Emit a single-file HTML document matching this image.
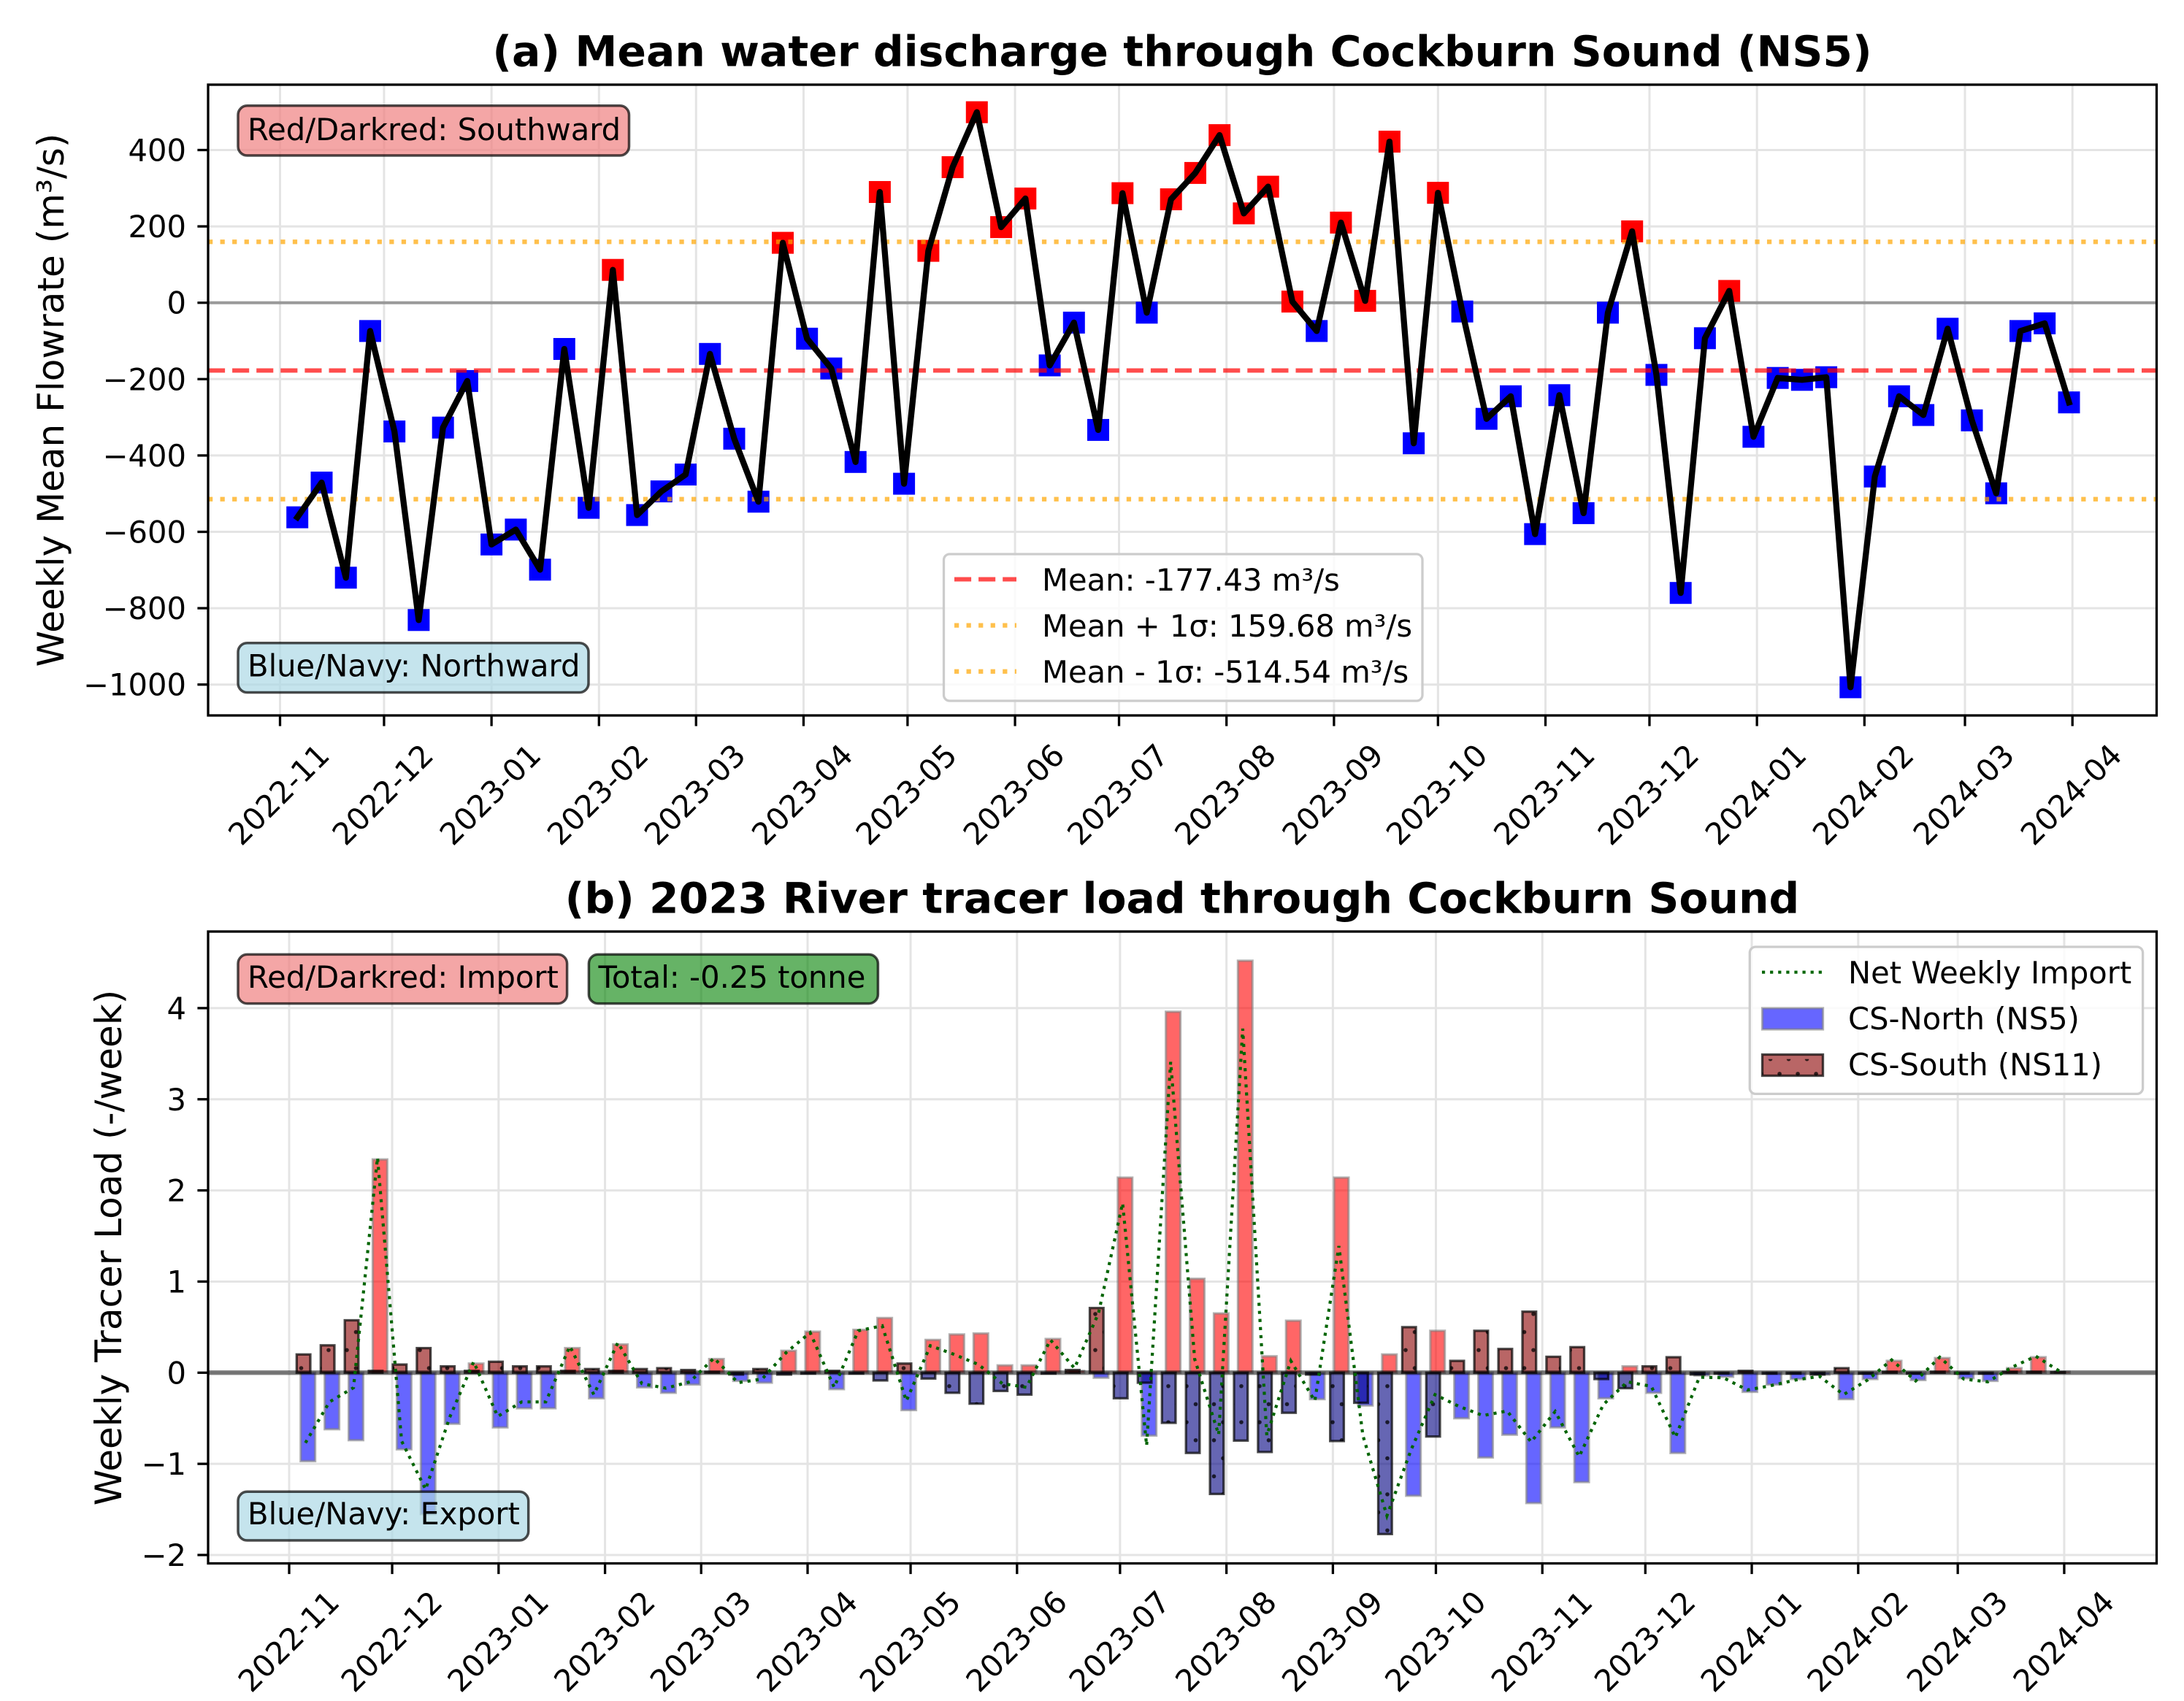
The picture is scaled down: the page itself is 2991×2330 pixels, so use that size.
<!DOCTYPE html>
<html><head><meta charset="utf-8">
<style>
html,body{margin:0;padding:0;background:#fff;}
svg{display:block;}
text{font-family:"DejaVu Sans","Liberation Sans",sans-serif;fill:#000;}
.tk{font-size:41.67px;}
.tt{font-size:58.33px;font-weight:bold;}
.yl{font-size:50px;}
</style></head><body>
<svg xmlns="http://www.w3.org/2000/svg" width="2991" height="2330" viewBox="0 0 2991 2330">
<defs>
<pattern id="dots" patternUnits="userSpaceOnUse" x="0" y="21.5" width="25" height="49.4">
<circle cx="0" cy="0" r="2.8" fill="#000" fill-opacity="0.75"/>
<circle cx="25" cy="0" r="2.8" fill="#000" fill-opacity="0.75"/>
<circle cx="0" cy="49.4" r="2.8" fill="#000" fill-opacity="0.75"/>
<circle cx="25" cy="49.4" r="2.8" fill="#000" fill-opacity="0.75"/>
<circle cx="12.5" cy="24.7" r="2.8" fill="#000" fill-opacity="0.75"/>
</pattern>
<pattern id="dotsL" patternUnits="userSpaceOnUse" x="2424.6" y="1450.7" width="25" height="40.4">
<circle cx="0" cy="0" r="2.8" fill="#000" fill-opacity="0.75"/>
<circle cx="25" cy="0" r="2.8" fill="#000" fill-opacity="0.75"/>
<circle cx="12.5" cy="20.2" r="2.8" fill="#000" fill-opacity="0.75"/>
</pattern>
<clipPath id="clipT"><rect x="285" y="116" width="2668.5" height="864"/></clipPath>
<clipPath id="clipB"><rect x="285" y="1276" width="2668.5" height="865.5"/></clipPath>
</defs>
<rect width="2991" height="2330" fill="#fff"/>

<!-- ============ TOP PANEL ============ -->
<g id="gridT" stroke="#e4e4e4" stroke-width="3"></g>
<g clip-path="url(#clipT)">
<line x1="285" x2="2953.5" y1="414.7" y2="414.7" stroke="#808080" stroke-opacity="0.75" stroke-width="4.2"/>
<g id="marksT"></g>
<line x1="285" x2="2953.5" y1="507.5" y2="507.5" stroke="#ff0000" stroke-opacity="0.7" stroke-width="6" stroke-dasharray="23.1 10"/>
<line x1="285" x2="2953.5" y1="331.2" y2="331.2" stroke="#ffa500" stroke-opacity="0.7" stroke-width="6.25" stroke-dasharray="6.25 10.3"/>
<line x1="285" x2="2953.5" y1="683.8" y2="683.8" stroke="#ffa500" stroke-opacity="0.7" stroke-width="6.25" stroke-dasharray="6.25 10.3"/>
<g id="lineT"></g>
</g>
<g id="ticksT" stroke="#000" stroke-width="3.3"></g>
<rect x="285" y="116" width="2668.5" height="864" fill="none" stroke="#000" stroke-width="3.3"/>

<!-- top text boxes -->
<rect x="326" y="144.8" width="535.5" height="68.2" rx="12.5" ry="12.5" fill="#f08080" fill-opacity="0.7" stroke="#000" stroke-opacity="0.7" stroke-width="3.5"/>
<text class="tk" x="339" y="192">Red/Darkred: Southward</text>
<rect x="326" y="880.7" width="480" height="67.8" rx="12.5" ry="12.5" fill="#add8e6" fill-opacity="0.7" stroke="#000" stroke-opacity="0.7" stroke-width="3.5"/>
<text class="tk" x="339" y="926.6">Blue/Navy: Northward</text>

<!-- top legend -->
<rect x="1292.5" y="759" width="655.5" height="201" rx="8" ry="8" fill="#fff" fill-opacity="0.8" stroke="#cccccc" stroke-width="3.3"/>
<line x1="1307" x2="1392" y1="793.5" y2="793.5" stroke="#ff0000" stroke-opacity="0.7" stroke-width="6" stroke-dasharray="23.1 10"/>
<line x1="1307" x2="1392" y1="856.6" y2="856.6" stroke="#ffa500" stroke-opacity="0.7" stroke-width="6.25" stroke-dasharray="6.25 10.3"/>
<line x1="1307" x2="1392" y1="919.8" y2="919.8" stroke="#ffa500" stroke-opacity="0.7" stroke-width="6.25" stroke-dasharray="6.25 10.3"/>
<text class="tk" x="1427" y="809">Mean: -177.43 m³/s</text>
<text class="tk" x="1427" y="872">Mean + 1σ: 159.68 m³/s</text>
<text class="tk" x="1427" y="935">Mean - 1σ: -514.54 m³/s</text>

<!-- top title & labels -->
<text class="tt" x="1619" y="90.7" text-anchor="middle">(a) Mean water discharge through Cockburn Sound (NS5)</text>
<text class="yl" transform="translate(87 548) rotate(-90)" text-anchor="middle">Weekly Mean Flowrate (m³/s)</text>

<g class="tk" text-anchor="end">
<text x="255" y="220.5">400</text>
<text x="255" y="325.1">200</text>
<text x="255" y="429.7">0</text>
<text x="255" y="534.3">−200</text>
<text x="255" y="638.9">−400</text>
<text x="255" y="743.5">−600</text>
<text x="255" y="848.1">−800</text>
<text x="255" y="952.7">−1000</text>
</g>

<g class="tk" text-anchor="middle">
<text transform="translate(381.5 1088) rotate(-45)" y="15">2022-11</text>
<text transform="translate(523.9 1088) rotate(-45)" y="15">2022-12</text>
<text transform="translate(671.1 1088) rotate(-45)" y="15">2023-01</text>
<text transform="translate(818.3 1088) rotate(-45)" y="15">2023-02</text>
<text transform="translate(951.3 1088) rotate(-45)" y="15">2023-03</text>
<text transform="translate(1098.4 1088) rotate(-45)" y="15">2023-04</text>
<text transform="translate(1240.9 1088) rotate(-45)" y="15">2023-05</text>
<text transform="translate(1388.1 1088) rotate(-45)" y="15">2023-06</text>
<text transform="translate(1530.5 1088) rotate(-45)" y="15">2023-07</text>
<text transform="translate(1677.7 1088) rotate(-45)" y="15">2023-08</text>
<text transform="translate(1824.9 1088) rotate(-45)" y="15">2023-09</text>
<text transform="translate(1967.3 1088) rotate(-45)" y="15">2023-10</text>
<text transform="translate(2114.5 1088) rotate(-45)" y="15">2023-11</text>
<text transform="translate(2257.0 1088) rotate(-45)" y="15">2023-12</text>
<text transform="translate(2404.2 1088) rotate(-45)" y="15">2024-01</text>
<text transform="translate(2551.3 1088) rotate(-45)" y="15">2024-02</text>
<text transform="translate(2689.0 1088) rotate(-45)" y="15">2024-03</text>
<text transform="translate(2836.2 1088) rotate(-45)" y="15">2024-04</text>
</g>

<!-- ============ BOTTOM PANEL ============ -->
<g id="gridB" stroke="#e4e4e4" stroke-width="3"></g>
<g clip-path="url(#clipB)">
<g id="barsN"></g>
<g id="barsS"></g>
<line x1="285" x2="2953.5" y1="1880.3" y2="1880.3" stroke="#000" stroke-opacity="0.5" stroke-width="6.25"/>
<g id="greenB"></g>
</g>
<g id="ticksB" stroke="#000" stroke-width="3.3"></g>
<rect x="285" y="1276" width="2668.5" height="865.5" fill="none" stroke="#000" stroke-width="3.3"/>

<!-- bottom text boxes -->
<rect x="326" y="1307.4" width="450.6" height="67.2" rx="12.5" ry="12.5" fill="#f08080" fill-opacity="0.7" stroke="#000" stroke-opacity="0.7" stroke-width="3.5"/>
<text class="tk" x="339" y="1353">Red/Darkred: Import</text>
<rect x="806.4" y="1307.4" width="396" height="67.2" rx="12.5" ry="12.5" fill="#008000" fill-opacity="0.6" stroke="#000" stroke-opacity="0.7" stroke-width="3.5"/>
<text class="tk" x="819.5" y="1353">Total: -0.25 tonne</text>
<rect x="326" y="2043.3" width="397.7" height="66.7" rx="12.5" ry="12.5" fill="#add8e6" fill-opacity="0.7" stroke="#000" stroke-opacity="0.7" stroke-width="3.5"/>
<text class="tk" x="339" y="2088">Blue/Navy: Export</text>

<!-- bottom legend -->
<rect x="2396.3" y="1297" width="538.3" height="201.4" rx="8" ry="8" fill="#fff" fill-opacity="0.8" stroke="#cccccc" stroke-width="3.3"/>
<line x1="2413" x2="2495" y1="1331.7" y2="1331.7" stroke="#006400" stroke-width="4.2" stroke-dasharray="4.2 6.9"/>
<rect x="2413.5" y="1381" width="83" height="29" fill="#0000ff" fill-opacity="0.6" stroke="#808080" stroke-opacity="0.6" stroke-width="3.3"/>
<rect x="2413.5" y="1444.5" width="83" height="29" fill="#8b0000" fill-opacity="0.6"/>
<rect x="2413.5" y="1444.5" width="83" height="29" fill="url(#dotsL)" stroke="#000" stroke-opacity="0.7" stroke-width="3.3"/>
<text class="tk" x="2531" y="1347">Net Weekly Import</text>
<text class="tk" x="2531" y="1410">CS-North (NS5)</text>
<text class="tk" x="2531" y="1473">CS-South (NS11)</text>

<!-- bottom title & labels -->
<text class="tt" x="1619" y="1250.7" text-anchor="middle">(b) 2023 River tracer load through Cockburn Sound</text>
<text class="yl" transform="translate(166 1709) rotate(-90)" text-anchor="middle">Weekly Tracer Load (-/week)</text>

<g class="tk" text-anchor="end">
<text x="255" y="1395.9">4</text>
<text x="255" y="1520.75">3</text>
<text x="255" y="1645.6">2</text>
<text x="255" y="1770.45">1</text>
<text x="255" y="1895.3">0</text>
<text x="255" y="2020.15">−1</text>
<text x="255" y="2145">−2</text>
</g>

<g class="tk" text-anchor="middle">
<text transform="translate(395 2248) rotate(-45)" y="15">2022-11</text>
<text transform="translate(536.1 2248) rotate(-45)" y="15">2022-12</text>
<text transform="translate(681.8 2248) rotate(-45)" y="15">2023-01</text>
<text transform="translate(827.6 2248) rotate(-45)" y="15">2023-02</text>
<text transform="translate(959.2 2248) rotate(-45)" y="15">2023-03</text>
<text transform="translate(1105 2248) rotate(-45)" y="15">2023-04</text>
<text transform="translate(1246.1 2248) rotate(-45)" y="15">2023-05</text>
<text transform="translate(1391.8 2248) rotate(-45)" y="15">2023-06</text>
<text transform="translate(1532.9 2248) rotate(-45)" y="15">2023-07</text>
<text transform="translate(1678.6 2248) rotate(-45)" y="15">2023-08</text>
<text transform="translate(1824.4 2248) rotate(-45)" y="15">2023-09</text>
<text transform="translate(1965.5 2248) rotate(-45)" y="15">2023-10</text>
<text transform="translate(2111.2 2248) rotate(-45)" y="15">2023-11</text>
<text transform="translate(2252.3 2248) rotate(-45)" y="15">2023-12</text>
<text transform="translate(2398.1 2248) rotate(-45)" y="15">2024-01</text>
<text transform="translate(2543.8 2248) rotate(-45)" y="15">2024-02</text>
<text transform="translate(2680.2 2248) rotate(-45)" y="15">2024-03</text>
<text transform="translate(2825.9 2248) rotate(-45)" y="15">2024-04</text>
</g>
</svg>

<script>
(function(){
var NS='http://www.w3.org/2000/svg';
function mk(p,tag,a){var e=document.createElementNS(NS,tag);for(var k in a)e.setAttribute(k,a[k]);p.appendChild(e);return e;}
function $(id){return document.getElementById(id);}
var days=[0,30,61,92,120,151,181,212,242,273,304,334,365,395,426,457,486,517];
function X1(d){return 383.5+4.748*d;}
function Y1(v){return 414.7-0.523*v;}
function X2(d){return 396+4.702*d;}
function Y2(v){return 1880.3-124.85*v;}

/* top grid + ticks */
var gT=$('gridT'), tT=$('ticksT');
days.forEach(function(d){var x=X1(d);
  mk(gT,'line',{x1:x,x2:x,y1:116,y2:980});
  mk(tT,'line',{x1:x,x2:x,y1:980,y2:994.6});});
[400,200,0,-200,-400,-600,-800,-1000].forEach(function(v){var y=Y1(v);
  mk(gT,'line',{x1:285,x2:2953.5,y1:y,y2:y});
  mk(tT,'line',{x1:270.4,x2:285,y1:y,y2:y});});

/* top data */
var tv=[-562,-471,-720,-74,-337,-831,-327,-205,-633,-594,
-699,-121,-537,86,-556,-494,-450,-134,-356,-521,
157,-94,-172,-417,290,-474,136,355,499,198,
273,-164,-52,-333,287,-26,271,340,439,234,
304,3,-74,210,5,422,-368,288,-23,-304,
-245,-606,-242,-551,-26,187,-189,-760,-93,31,
-351,-197,-202,-195,-1007,-455,-245,-294,-68,-308,
-499,-74,-54,-261];
var gM=$('marksT'), pts=[];
tv.forEach(function(v,i){var x=X1(5+7*i), y=Y1(v);
  mk(gM,'rect',{x:(x-15).toFixed(1),y:(y-15).toFixed(1),width:30,height:30,fill:v>0?'#ff0000':'#0000ff'});
  pts.push(x.toFixed(1)+','+y.toFixed(1));});
mk($('lineT'),'polyline',{points:pts.join(' '),fill:'none',stroke:'#000','stroke-width':8.3,'stroke-linejoin':'round','stroke-linecap':'square'});

/* bottom grid + ticks */
var gB=$('gridB'), tB=$('ticksB');
days.forEach(function(d){var x=X2(d);
  mk(gB,'line',{x1:x,x2:x,y1:1276,y2:2141.5});
  mk(tB,'line',{x1:x,x2:x,y1:2141.5,y2:2156.1});});
[4,3,2,1,0,-1,-2].forEach(function(v){var y=Y2(v);
  mk(gB,'line',{x1:285,x2:2953.5,y1:y,y2:y});
  mk(tB,'line',{x1:270.4,x2:285,y1:y,y2:y});});

/* bottom data */
var N=[-0.97,-0.62,-0.74,2.34,-0.84,-1.55,-0.56,0.10,-0.60,-0.39,
-0.39,0.27,-0.28,0.31,-0.16,-0.22,-0.13,0.15,-0.09,-0.11,
0.24,0.45,-0.18,0.47,0.60,-0.41,0.36,0.42,0.43,0.08,
0.08,0.37,0.02,-0.055,2.14,-0.69,3.96,1.03,0.65,4.52,
0.18,0.57,-0.29,2.14,-0.36,0.20,-1.35,0.46,-0.50,-0.93,
-0.68,-1.43,-0.60,-1.20,-0.28,0.07,-0.22,-0.88,-0.03,-0.045,
-0.21,-0.13,-0.07,-0.02,-0.29,-0.07,0.13,-0.08,0.16,-0.06,
-0.09,0.05,0.17,0.01];
var S=[0.20,0.30,0.575,0.02,0.09,0.27,0.07,0.02,0.12,0.07,
0.07,0.02,0.04,0.02,0.04,0.05,0.03,0.01,-0.02,0.04,
-0.02,-0.01,0.02,-0.01,-0.085,0.10,-0.064,-0.22,-0.34,-0.20,
-0.24,-0.01,0.03,0.71,-0.28,-0.11,-0.55,-0.88,-1.33,-0.745,
-0.87,-0.44,-0.02,-0.75,-0.33,-1.77,0.50,-0.70,0.13,0.46,
0.26,0.67,0.175,0.28,-0.07,-0.17,0.07,0.17,-0.02,-0.01,
0.02,-0.01,-0.01,-0.02,0.05,-0.01,0.01,-0.01,0.01,-0.01,
-0.01,0.01,0.01,0.005];
var y0=Y2(0), gN=$('barsN'), gS=$('barsS'), gp=[];
for(var i=0;i<74;i++){
  var c=418.3+32.914*i, n=N[i], s=S[i];
  var wN=19.8, xN=c+3.4-wN/2, yN=Math.min(Y2(n),y0), hN=Math.abs(n)*124.85;
  mk(gN,'rect',{x:xN.toFixed(1),y:yN.toFixed(1),width:wN,height:hN.toFixed(1),
    fill:n>=0?'#ff0000':'#0000ff','fill-opacity':0.6,stroke:'#808080','stroke-opacity':0.6,'stroke-width':3.3});
  var wS=18.7, xS=c-2.6-wS/2, yS=Math.min(Y2(s),y0), hS=Math.abs(s)*124.85;
  mk(gS,'rect',{x:xS.toFixed(1),y:yS.toFixed(1),width:wS,height:hS.toFixed(1),
    fill:s>=0?'#8b0000':'#000080','fill-opacity':0.6});
  mk(gS,'rect',{x:xS.toFixed(1),y:yS.toFixed(1),width:wS,height:hS.toFixed(1),
    fill:'url(#dots)',stroke:'#000','stroke-opacity':0.7,'stroke-width':3.3});
  gp.push(c.toFixed(1)+','+Y2(n+s).toFixed(1));
}
mk($('greenB'),'polyline',{points:gp.join(' '),fill:'none',stroke:'#006400','stroke-width':4.2,'stroke-dasharray':'4.2 6.9'});
})();
</script>
</body></html>
